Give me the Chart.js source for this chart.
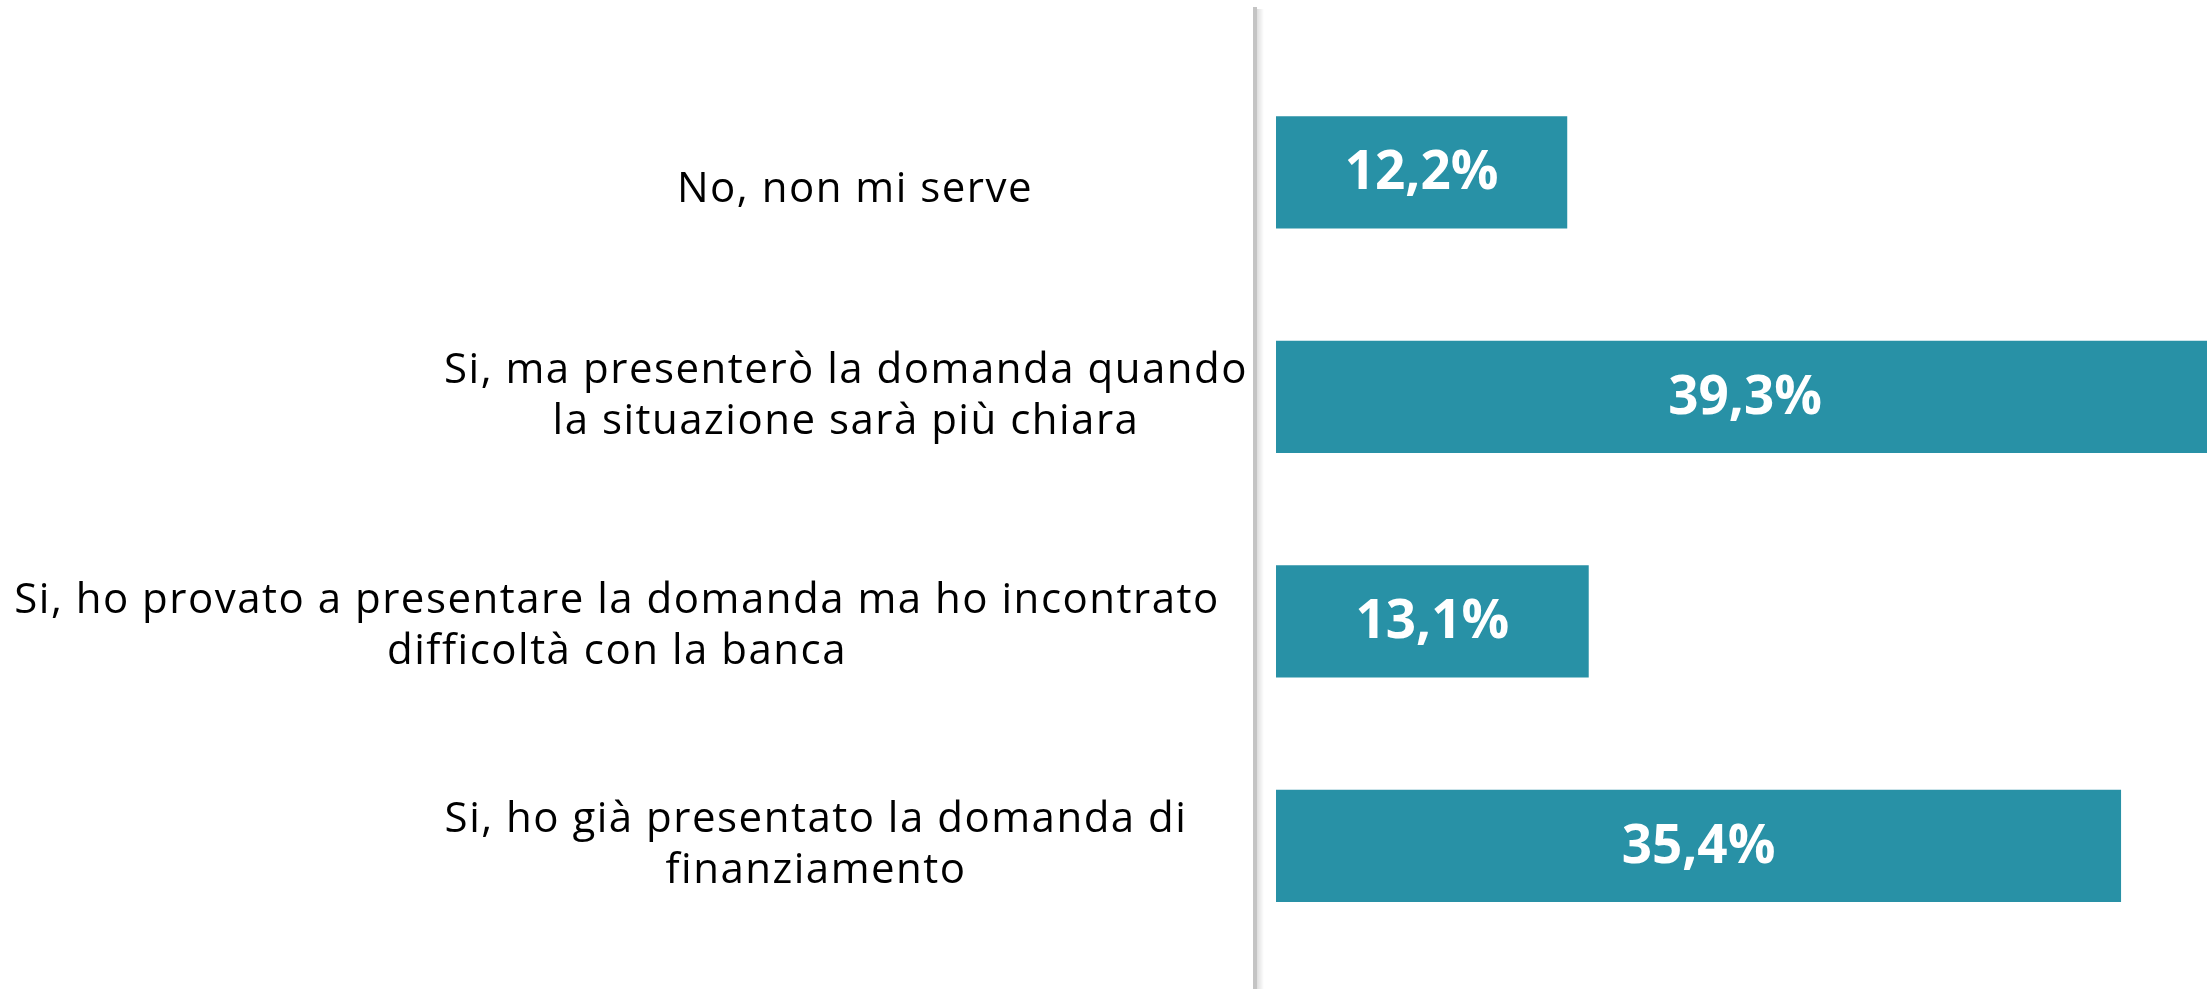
<!DOCTYPE html>
<html>
<head>
<meta charset="utf-8">
<script src="https://cdn.jsdelivr.net/npm/chart.js@4.4.1/dist/chart.umd.min.js"></script>
<style>
  html, body { margin: 0; padding: 0; background: #fff; }
  canvas { display: block; }
</style>
</head>
<body>
<canvas id="chart" width="2207" height="989"></canvas>
<script>
// answers (bottom to top in the picture, top to bottom here)
const categories = [
  ["No, non mi serve"],
  ["Si, ma presenterò la domanda quando", "la situazione sarà più chiara"],
  ["Si, ho provato a presentare la domanda ma ho incontrato", "difficoltà con la banca"],
  ["Si, ho già presentato la domanda di", "finanziamento"]
];
const values = [12.2, 39.3, 13.1, 35.4];
const valueLabels = ["12,2%", "39,3%", "13,1%", "35,4%"];

// where each label block is centred horizontally (layout only)
const labelCenterX = [855, 846, 617, 816];
const labelOffsetY = [18, 0, 5, 0];

const barColor = "#2891a6";
const labelFont = "42px 'Open Sans'";
const valueFont = "bold 53px 'Open Sans'";

// axis line + category labels + value labels
const decorations = {
  id: "decorations",
  afterDatasetsDraw(chart) {
    const ctx = chart.ctx;
    const area = chart.chartArea;
    const yScale = chart.scales.y;

    // grey axis line with soft shadow
    ctx.save();
    const x0 = area.left;
    const grad = ctx.createLinearGradient(x0 + 2, 0, x0 + 9, 0);
    grad.addColorStop(0, "rgba(0,0,0,0.13)");
    grad.addColorStop(1, "rgba(0,0,0,0)");
    ctx.fillStyle = grad;
    ctx.fillRect(x0 + 2, 9, 8, chart.height - 9);
    ctx.fillStyle = "#c4c4c4";
    ctx.fillRect(x0 - 2, 7, 4, chart.height - 7);
    ctx.restore();

    // category labels, lines centred
    ctx.save();
    ctx.font = labelFont;
    ctx.letterSpacing = "1.5px";
    ctx.fillStyle = "#000";
    ctx.textAlign = "center";
    ctx.textBaseline = "middle";
    const lineH = 51;
    categories.forEach((lines, i) => {
      const cy = yScale.getPixelForTick(i) + labelOffsetY[i];
      const start = cy - (lines.length - 1) * lineH / 2;
      lines.forEach((t, j) => ctx.fillText(t, labelCenterX[i], start + j * lineH));
    });
    ctx.restore();

    // values inside bars
    ctx.save();
    ctx.font = valueFont;
    ctx.fillStyle = "#fff";
    ctx.textAlign = "center";
    ctx.textBaseline = "middle";
    const meta = chart.getDatasetMeta(0);
    meta.data.forEach((bar, i) => {
      const cx = (bar.x + bar.base) / 2;
      ctx.fillText(valueLabels[i], cx, bar.y + 2);
    });
    ctx.restore();
  }
};

new Chart(document.getElementById("chart").getContext("2d"), {
  type: "bar",
  data: {
    labels: categories.map(l => l.join(" ")),
    datasets: [{
      data: values,
      backgroundColor: barColor,
      borderWidth: 0,
      barPercentage: 1,
      categoryPercentage: 0.5
    }]
  },
  options: {
    indexAxis: "y",
    responsive: false,
    animation: false,
    layout: { padding: { top: 60, bottom: 31, left: 0, right: 0 } },
    plugins: {
      legend: { display: false },
      tooltip: { enabled: false }
    },
    scales: {
      x: {
        display: false,
        min: -0.88,
        max: 39
      },
      y: {
        ticks: { display: false },
        grid: { display: false },
        border: { display: false },
        afterFit(scale) { scale.width = 1255; }
      }
    }
  },
  plugins: [decorations]
});
</script>
</body>
</html>
